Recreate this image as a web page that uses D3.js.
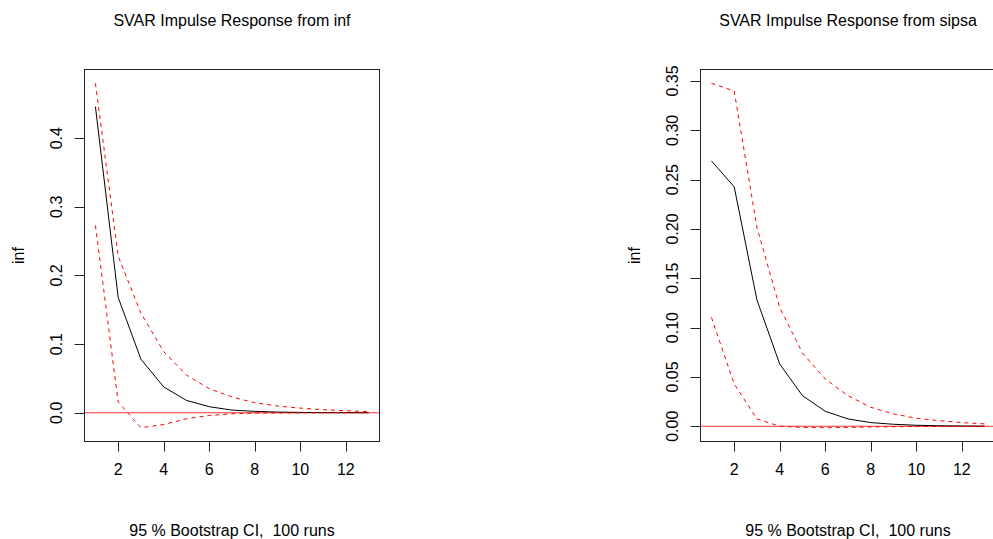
<!DOCTYPE html>
<html>
<head>
<meta charset="utf-8">
<script src="https://cdn.jsdelivr.net/npm/d3@7"></script>
<style>
  body { margin: 0; background: #fff; }
  svg { display: block; font-family: "Liberation Sans", Arial, Helvetica, sans-serif; }
</style>
</head>
<body>
<svg id="chart" width="993" height="539"></svg>
<script>
// horizon steps (1..13)
const steps = d3.range(1, 14)

// response of inf to an inf shock
const infIrf   = [0.446, 0.168, 0.078, 0.0376, 0.018, 0.0088, 0.0039, 0.002, 0.001, 0.0005, 0.0002, 0.0001, 0.00005]
const infUpper = [0.480, 0.228, 0.145, 0.089, 0.055, 0.035, 0.023, 0.0146, 0.0098, 0.0068, 0.0044, 0.003, 0.0015]
const infLower = [0.273, 0.0156, -0.0218, -0.017, -0.0088, -0.004, -0.0015, -0.0006, -0.0003, -0.0002, -0.0001, 0, 0]

// response of inf to a sipsa shock
const sipsaIrf   = [0.269, 0.2427, 0.128, 0.0631, 0.031, 0.0152, 0.0074, 0.0037, 0.002, 0.001, 0.0005, 0.0002, 0.0001]
const sipsaUpper = [0.3477, 0.3399, 0.2015, 0.1205, 0.0742, 0.0479, 0.031, 0.0192, 0.0125, 0.0081, 0.0057, 0.0037, 0.0024]
const sipsaLower = [0.1104, 0.0429, 0.0074, 0.0, -0.0012, -0.0015, -0.0012, -0.0008, -0.0005, -0.0003, -0.0002, -0.0001, 0]

const xTicks = [2, 4, 6, 8, 10, 12]
const infTicks = [0, 0.1, 0.2, 0.3, 0.4]
const sipsaTicks = [0, 0.05, 0.1, 0.15, 0.2, 0.25, 0.3, 0.35]

const panels = [
    {title: 'SVAR Impulse Response from inf', irf: infIrf, upper: infUpper, lower: infLower,
        ticks: infTicks, fmt: d3.format('.1f'), left: 84.5},
    {title: 'SVAR Impulse Response from sipsa', irf: sipsaIrf, upper: sipsaUpper, lower: sipsaLower,
        ticks: sipsaTicks, fmt: d3.format('.2f'), left: 700.5}
]

const svg = d3.select('#chart')
const boxW = 295
const plotTop = 69.5
const plotBottom = 441.5
const fontSize = 16

// R style axis limits: data range widened by 4% each side
const rlim = ext => {
    const pad = (ext[1] - ext[0]) * 0.04
    return [ext[0] - pad, ext[1] + pad]
}

const drawPanel = p => {
    const x = d3.scaleLinear()
        .domain(rlim(d3.extent(steps)))
        .range([p.left, p.left + boxW])
    const y = d3.scaleLinear()
        .domain(rlim(d3.extent([...p.upper, ...p.lower, ...p.irf])))
        .range([plotBottom, plotTop])

    const g = svg.append('g')
    const cx = p.left + boxW / 2

    const line = vals => d3.line()
        .x((d, i) => x(steps[i]))
        .y(d => y(d))(vals)

    // clip for lines inside the plot region
    const clipId = 'clip' + Math.round(p.left)
    svg.append('clipPath').attr('id', clipId)
        .append('rect')
        .attr('x', p.left).attr('y', plotTop)
        .attr('width', boxW).attr('height', plotBottom - plotTop)

    const plot = g.append('g').attr('clip-path', 'url(#' + clipId + ')')

    plot.append('line')
        .attr('x1', p.left).attr('x2', p.left + boxW)
        .attr('y1', y(0)).attr('y2', y(0))
        .attr('stroke', '#ff3333')
        .attr('stroke-width', 1.2)

    plot.append('path')
        .attr('d', line(p.irf))
        .attr('fill', 'none')
        .attr('stroke', '#000')
        .attr('stroke-width', 1)

    for (const band of [p.upper, p.lower]) {
        plot.append('path')
            .attr('d', line(band))
            .attr('fill', 'none')
            .attr('stroke', '#ff0000')
            .attr('stroke-width', 1)
            .attr('stroke-dasharray', '4,4')
    }

    // box
    g.append('rect')
        .attr('x', p.left).attr('y', plotTop)
        .attr('width', boxW).attr('height', plotBottom - plotTop)
        .attr('fill', 'none')
        .attr('stroke', '#222')
        .attr('stroke-width', 1)

    // x axis
    const xa = g.append('g')
    xa.append('line')
        .attr('x1', x(xTicks[0])).attr('x2', x(xTicks[xTicks.length - 1]))
        .attr('y1', plotBottom).attr('y2', plotBottom)
        .attr('stroke', '#222')
    xa.selectAll('.xt').data(xTicks).enter()
        .append('line')
        .attr('x1', d => Math.round(x(d)) + 0.5).attr('x2', d => Math.round(x(d)) + 0.5)
        .attr('y1', plotBottom).attr('y2', plotBottom + 10)
        .attr('stroke', '#222')
    xa.selectAll('text').data(xTicks).enter()
        .append('text')
        .attr('x', d => x(d))
        .attr('y', 475)
        .attr('text-anchor', 'middle')
        .attr('font-size', fontSize)
        .text(d => d)

    // y axis
    const ya = g.append('g')
    ya.append('line')
        .attr('x1', p.left).attr('x2', p.left)
        .attr('y1', y(p.ticks[0])).attr('y2', y(p.ticks[p.ticks.length - 1]))
        .attr('stroke', '#222')
    ya.selectAll('.yt').data(p.ticks).enter()
        .append('line')
        .attr('x1', p.left - 10).attr('x2', p.left)
        .attr('y1', d => Math.round(y(d)) + 0.5).attr('y2', d => Math.round(y(d)) + 0.5)
        .attr('stroke', '#222')
    ya.selectAll('text').data(p.ticks).enter()
        .append('text')
        .attr('transform', d => 'translate(' + (p.left - 22.5) + ',' + y(d) + ') rotate(-90)')
        .attr('text-anchor', 'middle')
        .attr('font-size', fontSize)
        .text(d => p.fmt(d))

    // labels
    g.append('text')
        .attr('transform', 'translate(' + (p.left - 61) + ',' + ((plotTop + plotBottom) / 2) + ') rotate(-90)')
        .attr('text-anchor', 'middle')
        .attr('font-size', fontSize)
        .text('inf')

    g.append('text')
        .attr('x', cx).attr('y', 26)
        .attr('text-anchor', 'middle')
        .attr('font-size', fontSize)
        .text(p.title)

    g.append('text')
        .attr('x', cx).attr('y', 536)
        .attr('text-anchor', 'middle')
        .attr('font-size', fontSize)
        .style('white-space', 'pre')
        .text('95 % Bootstrap CI,  100 runs')
}

panels.forEach(drawPanel)
</script>
</body>
</html>
